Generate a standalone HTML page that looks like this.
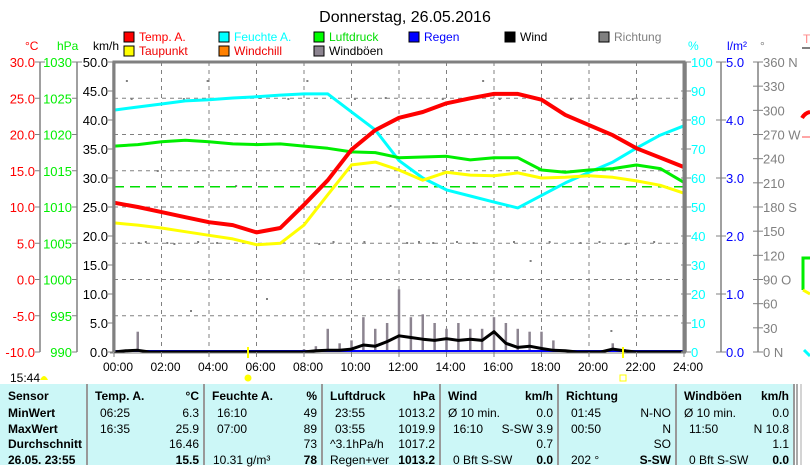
<!DOCTYPE html>
<html><head><meta charset="utf-8">
<style>
body{margin:0;width:810px;height:465px;overflow:hidden;background:#fff;font-family:"Liberation Sans",sans-serif;position:relative}
svg{position:absolute;left:0;top:0}
.tbl{position:absolute;left:0;top:384px;width:795px;height:81px;background:#ccf7f7}
.col{position:absolute;top:0;height:81px;border-right:2px solid #999;box-sizing:border-box}
.c{position:absolute;font-size:12px;white-space:nowrap;line-height:15px}
.b{font-weight:bold}
</style></head><body>
<svg width="810" height="465" id="chart"></svg>
<div class="tbl" id="tbl"></div>
<script>
const hours=[0,1,2,3,4,5,6,7,8,9,10,11,12,13,14,15,16,17,18,19,20,21,22,23,24];
const tempVals=[10.6,10.0,9.3,8.6,7.9,7.5,6.5,7.1,10.3,13.7,17.9,20.6,22.3,23.1,24.3,25.0,25.6,25.6,24.8,22.7,21.3,19.9,18.1,16.8,15.5];
const dewVals=[7.8,7.5,7.1,6.6,6.1,5.6,4.8,5.0,7.5,11.7,15.8,16.2,15.1,13.7,14.8,14.4,14.3,14.7,14.0,14.1,14.3,14.1,13.6,13.0,11.9];
const humVals=[83.4,84.5,85.5,86.6,87,87.6,88,88.6,89,89,82.8,76.6,66,60,55.9,53.8,51.7,49.7,54,58.3,62,65.5,70.3,74.8,78];
const pressVals=[1018.4,1018.6,1019.0,1019.2,1019.0,1018.7,1018.6,1018.7,1018.4,1018.1,1017.6,1017.5,1016.8,1016.9,1017.0,1016.5,1016.8,1016.8,1015.1,1014.8,1015.1,1015.3,1015.8,1015.3,1013.4];
const halfHours=[];for(let i=0;i<=48;i++)halfHours.push(i/2);
const windVals=[0,0.2,0.3,0,0,0,0,0,0,0,0,0,0,0,0,0,0,0.2,0.3,0.3,0.5,1.2,1.0,1.8,2.8,2.5,2.2,2.0,2.3,2.0,2.2,2.0,3.5,1.5,0.8,1.0,0.6,0.3,0.2,0,0,0,0.5,0.2,0,0,0,0,0];
const gustVals=[0,0.3,3.5,0,0,0,0,0.2,0,0,0,0,0,0,0,0.3,0.5,1,4,1.5,2,6,4,5,10.8,6,6.5,5,4,5,4,4,6,5,4,3.5,3.5,2,0.3,0,0,0,1.5,0.5,0,0,0,0,0.2];
const pressRef=1012.8;
const xTicks=["00:00","02:00","04:00","06:00","08:00","10:00","12:00","14:00","16:00","18:00","20:00","22:00","24:00"];
const cTicks=["30.0","25.0","20.0","15.0","10.0","5.0","0.0","-5.0","-10.0"];
const pTicks=["1030","1025","1020","1015","1010","1005","1000","995","990"];
const kTicks=["50.0","45.0","40.0","35.0","30.0","25.0","20.0","15.0","10.0","5.0","0.0"];
const hTicks=["100","90","80","70","60","50","40","30","20","10","0"];
const rTicks=["5.0","4.0","3.0","2.0","1.0","0.0"];
const dTicks=["360 N","330","300","270 W","240","210","180 S","150","120","90  O","60","30","0    N"];

const X0=114,X1=684,Y0=62,Y1=352;
const x=h=>X0+(X1-X0)*h/24;
const yC=v=>Y0+(30-v)*(Y1-Y0)/40;
const yP=v=>Y0+(1030-v)*(Y1-Y0)/40;
const yK=v=>Y0+(50-v)*(Y1-Y0)/50;
const yH=v=>Y0+(100-v)*(Y1-Y0)/100;
const svg=document.getElementById('chart');
const NS='http://www.w3.org/2000/svg';
function mk(t,a,txt){const e=document.createElementNS(NS,t);for(const k in a)e.setAttribute(k,a[k]);if(txt!==undefined)e.textContent=txt;svg.appendChild(e);return e;}

let e=mk('text',{x:405,y:22,'text-anchor':'middle','font-size':16,fill:'#000'},'Donnerstag, 26.05.2016');


const leg=[["Temp. A.","#f00","#f00",124,37],["Feuchte A.","#0ff","#0ff",219,37],["Luftdruck","#0f0","#0d0",314,37],["Regen","#00f","#00f",409,37],["Wind","#000","#000",505,37],["Richtung","#808080","#808080",599,37],["Taupunkt","#ff0","#e00",124,51],["Windchill","#ff8000","#e00",219,51],["Windböen","#8c8490","#000",314,51]];
leg.forEach(l=>{
 const g=document.createElementNS(NS,'g');svg.appendChild(g);
 
 
 const r=document.createElementNS(NS,'rect');r.setAttribute('x',l[3]);r.setAttribute('y',l[4]-5);r.setAttribute('width',10);r.setAttribute('height',10);r.setAttribute('fill',l[1]);r.setAttribute('stroke','#000');g.appendChild(r);
 const t=document.createElementNS(NS,'text');t.setAttribute('x',l[3]+15);t.setAttribute('y',l[4]+4);t.setAttribute('font-size',12);t.setAttribute('fill',l[2]);t.textContent=l[0];g.appendChild(t);
});

for(let i=1;i<12;i++){e=mk('line',{x1:x(i*2),x2:x(i*2),y1:Y0,y2:Y1,stroke:'#808080','stroke-dasharray':'4,4'});}
for(let i=1;i<8;i++){const yy=Y0+i*(Y1-Y0)/8;e=mk('line',{x1:X0,x2:X1,y1:yy,y2:yy,stroke:'#808080','stroke-dasharray':'4,4'});}

const dotH=[1,1.3,2.2,2.5,3.5,4.3,5.7,7.1,8.6,9.2,10.5,12.3,12.8,13.4,14.4,15.1,16.8,18.3,19.6,20.4,21.5,22.7,3.2,6.4,11.6,17.5,20.9,1.8,5.1,9.7,0.7,2.9,4.6,6.1,7.3,10.1,11.4,13.8,16.2,17.9,19.2,21.8,0.5,3.9,8.1,15.5];
const dotY=[242,241,242,243,241,242,242,241,243,241,241,242,241,242,241,242,241,241,242,241,243,241,310,298,205,260,330,170,185,150,98,98,98,97,98,98,97,98,98,98,98,98,80,80,80,80];
dotH.forEach((h,i)=>{e=mk('rect',{x:x(h),y:dotY[i],width:2,height:2,fill:'#808080'});});

function line(xs,vals,yf,col,w,name){
 const pts=vals.map((v,i)=>x(xs[i]).toFixed(1)+','+yf(v).toFixed(1)).join(' ');
 const p=mk('polyline',{points:pts,fill:'none',stroke:col,'stroke-width':w,'stroke-linejoin':'round'});
 
}
gustVals.forEach((v,i)=>{if(v>0){e=mk('line',{x1:x(halfHours[i]),x2:x(halfHours[i]),y1:yK(0),y2:yK(v),stroke:'#8c8490','stroke-width':2.5});}});
e=mk('line',{x1:X0,x2:X1,y1:yP(pressRef),y2:yP(pressRef),stroke:'#0d0','stroke-width':1.5,'stroke-dasharray':'10,6'});

line(hours,humVals,yH,'#0ff',3,'humidity-line');
line(hours,pressVals,yP,'#0e0',3,'pressure-line');
line(hours,dewVals,yC,'#ff0',3,'dewpoint-line');
line(hours,tempVals,yC,'#f00',4,'temperature-line');
e=mk('line',{x1:X0,x2:X1,y1:Y1-1,y2:Y1-1,stroke:'#00f','stroke-width':2});

line(halfHours,windVals,yK,'#000',3,'wind-line');

e=mk('path',{d:`M${X0},${Y1} V${Y0} H${X1} V${Y1}`,fill:'none',stroke:'#808080','stroke-width':3});

mk('line',{x1:X0-4,x2:X1+2,y1:Y1+1,y2:Y1+1,stroke:'#808080','stroke-width':1});
xTicks.forEach((t,i)=>{const xx=x(i*2);mk('line',{x1:xx,x2:xx,y1:Y1,y2:Y1+5,stroke:'#808080'});e=mk('text',{x:xx+4,y:371,'text-anchor':'middle','font-size':12,fill:'#000'},t);});

function axis(ax,ticks,col,name,anchorLeft){
 mk('line',{x1:ax,x2:ax,y1:Y0,y2:Y1,stroke:'#808080','stroke-width':1.5});
 const n=ticks.length-1;
 ticks.forEach((t,i)=>{const yy=Y0+i*(Y1-Y0)/n;
  mk('line',{x1:ax-5,x2:ax+(anchorLeft?5:0),y1:yy,y2:yy,stroke:'#808080'});
  e=mk('text',{x:anchorLeft?ax+5:ax-5,y:yy+5,'text-anchor':anchorLeft?'start':'end','font-size':13,fill:col,'xml:space':'preserve'},t);
  });
}
axis(40,cTicks,'#f00','celsius-tick-label',false);
mk('line',{x1:40,x2:45,y1:Y0,y2:Y0,stroke:'#808080'});
axis(77,pTicks,'#0e0','hpa-tick-label',false);
mk('line',{x1:77,x2:82,y1:Y0,y2:Y0,stroke:'#808080'});
axis(X0-1,kTicks,'#000','kmh-tick-label',false);
axis(X1+2,hTicks,'#0ff','humidity-tick-label',true);
axis(721,rTicks,'#00f','rain-tick-label',true);
axis(758,dTicks,'#808080','direction-tick-label',true);
const units=[["°C",25,'#f00'],["hPa",57,'#0e0'],["km/h",93,'#000'],["%",688,'#0ff'],["l/m²",727,'#00f'],["°",760,'#808080']];
units.forEach(u=>{e=mk('text',{x:u[1],y:50,'font-size':12,fill:u[2]},u[0]);});

mk('line',{x1:248,x2:248,y1:347,y2:358,stroke:'#ff0','stroke-width':2});
mk('line',{x1:623,x2:623,y1:347,y2:358,stroke:'#ff0','stroke-width':2});
e=mk('circle',{cx:248,cy:378,r:3.5,fill:'#ff0'});
e=mk('rect',{x:620,y:375,width:6,height:6,fill:'none',stroke:'#ff0'});
e=mk('text',{x:10,y:382,'font-size':12,fill:'#000'},'15:44');
mk('path',{d:'M40,380 q4,-8 8,0 z',fill:'#ff0'});
mk('text',{x:803,y:43,'font-size':12,fill:'#f88'},'T');
mk('line',{x1:802,x2:810,y1:48,y2:48,stroke:'#808080','stroke-width':2});
mk('path',{d:'M802,118 q3,-5 8,-6',stroke:'#f00','stroke-width':4,fill:'none'});
mk('line',{x1:802,x2:810,y1:137,y2:137,stroke:'#f88','stroke-width':1.5});
mk('path',{d:'M803,290 V258 H810',stroke:'#0e0','stroke-width':3,fill:'none'});
mk('path',{d:'M803,290 l7,4',stroke:'#ff0','stroke-width':3,fill:'none'});
mk('path',{d:'M804,350 l6,6',stroke:'#0ff','stroke-width':3,fill:'none'});
mk('line',{x1:797,x2:797,y1:384,y2:465,stroke:'#aaa','stroke-width':2});
mk('line',{x1:801,x2:801,y1:384,y2:465,stroke:'#aaa','stroke-width':1});

const tbl=document.getElementById('tbl');
const cols=[[0,88],[88,205],[205,323],[323,441],[441,559],[559,677],[677,795]];
const rowsY=[5,22,38,53,69];
const cells=[
 [0,"Sensor",8,"l",1,0],[0,"MinWert",8,"l",1,1],[0,"MaxWert",8,"l",1,2],[0,"Durchschnitt",8,"l",1,3],[0,"26.05. 23:55",8,"l",1,4],
 [1,"Temp. A.",7,"l",1,0],[1,"°C",6,"r",1,0],[1,"06:25",12,"l",0,1],[1,"6.3",6,"r",0,1],[1,"16:35",12,"l",0,2],[1,"25.9",6,"r",0,2],[1,"16.46",6,"r",0,3],[1,"15.5",6,"r",1,4],
 [2,"Feuchte A.",7,"l",1,0],[2,"%",6,"r",1,0],[2,"16:10",12,"l",0,1],[2,"49",6,"r",0,1],[2,"07:00",12,"l",0,2],[2,"89",6,"r",0,2],[2,"73",6,"r",0,3],[2,"10.31 g/m³",8,"l",0,4],[2,"78",6,"r",1,4],
 [3,"Luftdruck",7,"l",1,0],[3,"hPa",6,"r",1,0],[3,"23:55",12,"l",0,1],[3,"1013.2",6,"r",0,1],[3,"03:55",12,"l",0,2],[3,"1019.9",6,"r",0,2],[3,"^3.1hPa/h",7,"l",0,3],[3,"1017.2",6,"r",0,3],[3,"Regen+ver",7,"l",0,4],[3,"1013.2",6,"r",1,4],
 [4,"Wind",7,"l",1,0],[4,"km/h",6,"r",1,0],[4,"Ø 10 min.",7,"l",0,1],[4,"0.0",6,"r",0,1],[4,"16:10",12,"l",0,2],[4,"S-SW 3.9",6,"r",0,2],[4,"0.7",6,"r",0,3],[4,"0 Bft S-SW",12,"l",0,4],[4,"0.0",6,"r",1,4],
 [5,"Richtung",7,"l",1,0],[5,"01:45",12,"l",0,1],[5,"N-NO",6,"r",0,1],[5,"00:50",12,"l",0,2],[5,"N",6,"r",0,2],[5,"SO",6,"r",0,3],[5,"202 °",12,"l",0,4],[5,"S-SW",6,"r",1,4],
 [6,"Windböen",7,"l",1,0],[6,"km/h",6,"r",1,0],[6,"Ø 10 min.",7,"l",0,1],[6,"0.0",6,"r",0,1],[6,"11:50",12,"l",0,2],[6,"N 10.8",6,"r",0,2],[6,"1.1",6,"r",0,3],[6,"0 Bft S-SW",12,"l",0,4],[6,"0.0",6,"r",1,4]
];
cols.forEach(c=>{const d=document.createElement('div');d.className='col';d.style.left=c[0]+'px';d.style.width=(c[1]-c[0])+'px';
 
 
 tbl.appendChild(d);});
cells.forEach(c=>{
 const col=cols[c[0]];
 const d=document.createElement('div');d.className='c'+(c[4]?' b':'');d.textContent=c[1];
 d.style.top=rowsY[c[5]]+'px';
 if(c[3]==='l')d.style.left=(col[0]+c[2])+'px';else d.style.right=(795-col[1]+c[2])+'px';
 
 
 tbl.appendChild(d);
});
</script>
</body></html>
